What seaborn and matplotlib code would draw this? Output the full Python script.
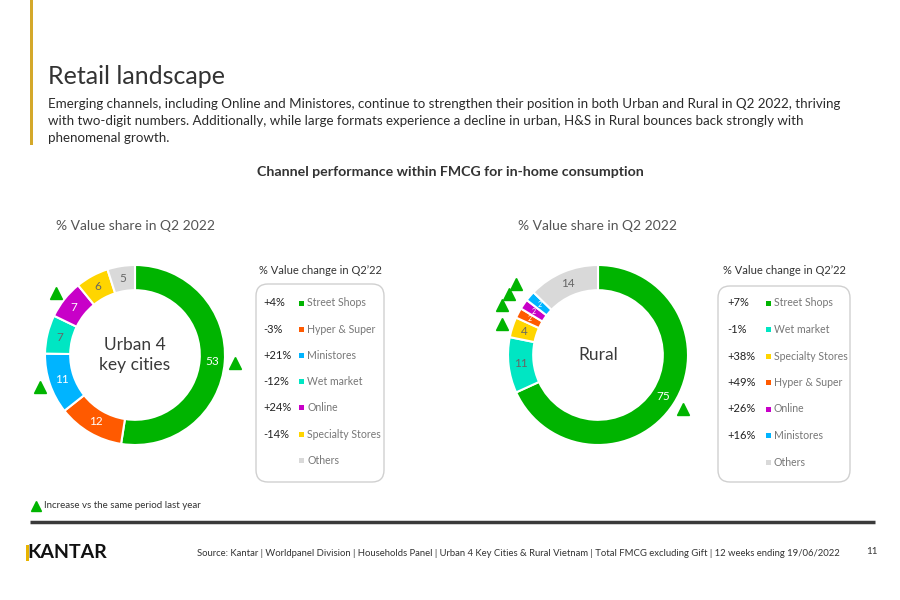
import matplotlib
matplotlib.use("Agg")
import matplotlib.pyplot as plt
import seaborn as sns
from matplotlib.patches import FancyBboxPatch, Rectangle
import numpy as np

# ---- data ----
urban_channels = ["Street Shops", "Hyper & Super", "Ministores", "Wet market",
                  "Online", "Specialty Stores", "Others"]
urban_share = [53, 12, 11, 7, 7, 6, 5]
urban_change = ["+4%", "-3%", "+21%", "-12%", "+24%", "-14%", ""]
urban_increase = [True, False, True, False, True, False, False]

rural_channels = ["Street Shops", "Wet market", "Specialty Stores", "Hyper & Super",
                  "Online", "Ministores", "Others"]
rural_share = [75, 11, 4, 2, 2, 2, 14]
rural_change = ["+7%", "-1%", "+38%", "+49%", "+26%", "+16%", ""]
rural_increase = [True, False, True, True, True, True, False]

channel_colors = {
    "Street Shops": "#00B400",
    "Hyper & Super": "#FF5A00",
    "Ministores": "#00B4FF",
    "Wet market": "#00E6C3",
    "Online": "#C800C8",
    "Specialty Stores": "#FFD500",
    "Others": "#D9D9D9",
}
light_label = {"Wet market", "Specialty Stores", "Others"}

sns.set_theme(style="white")
plt.rcParams["font.family"] = ["Lato", "DejaVu Sans"]

W, H = 900, 600
fig = plt.figure(figsize=(9, 6), dpi=100)
fig.patch.set_facecolor("white")

# page overlay in pixel coordinates
page = fig.add_axes([0, 0, 1, 1])
page.set_xlim(0, W)
page.set_ylim(H, 0)
page.axis("off")

DARK = "#333333"
GREY = "#555555"

page.add_patch(Rectangle((30, 0), 3, 145, color="#D4A82A", lw=0))
page.text(48, 77, "Retail landscape", fontsize=18, color=DARK, va="center")
subtitle = ["Emerging channels, including Online and Ministores, continue to strengthen their position in both Urban and Rural in Q2 2022, thriving",
            "with two-digit numbers. Additionally, while large formats experience a decline in urban, H&S in Rural bounces back strongly with",
            "phenomenal growth."]
for i, line in enumerate(subtitle):
    page.text(48, 104 + i * 17, line, fontsize=9.6, color="#2b2b2b", va="center")

page.text(450, 172, "Channel performance within FMCG for in-home consumption",
          fontsize=10.2, fontweight="bold", color=DARK, ha="center", va="center")


def draw_donut(cx, cy, r, values, channels, increase, center_text):
    size = 2 * r + 60
    ax = fig.add_axes([(cx - size / 2) / W, 1 - (cy + size / 2) / H, size / W, size / H])
    ax.set_aspect("equal")
    cols = [channel_colors[c] for c in channels]
    wedges, _ = ax.pie(values, colors=cols, startangle=90, counterclock=False,
                       radius=1.0, wedgeprops=dict(width=0.28, edgecolor="white", linewidth=1.5))
    lim = (size / 2) / r
    ax.set_xlim(-lim, lim)
    ax.set_ylim(-lim, lim)
    for w, val, ch, inc in zip(wedges, values, channels, increase):
        mid = np.deg2rad((w.theta1 + w.theta2) / 2)
        small = (w.theta2 - w.theta1) < 10
        col = "#666666" if ch in light_label else "white"
        ax.text(0.86 * np.cos(mid), 0.86 * np.sin(mid), str(val), ha="center", va="center",
                fontsize=5 if small else 8.5, color=col)
        if inc:
            rr = 1.2 if small else 1.12
            ax.plot(rr * np.cos(mid), rr * np.sin(mid), marker="^", color="#00B400",
                    markersize=8, clip_on=False)
    ax.text(0, 0, center_text, ha="center", va="center", fontsize=12.5, color="#3a3a3a",
            linespacing=1.3)
    ax.axis("off")
    return ax


draw_donut(135, 355, 90, urban_share, urban_channels, urban_increase, "Urban 4\nkey cities")
draw_donut(598, 355, 90, rural_share, rural_channels, rural_increase, "Rural")

page.text(135, 226, "% Value share in Q2 2022", fontsize=10, color=GREY, ha="center", va="center")
page.text(597, 226, "% Value share in Q2 2022", fontsize=10, color=GREY, ha="center", va="center")


def draw_legend(x0, x1, y0, y1, val_x, sq_x, channels, changes, row0, step):
    page.text((x0 + x1) / 2, 270, "% Value change in Q2\u201922", fontsize=8, color=DARK,
              ha="center", va="center")
    box = FancyBboxPatch((x0, y0), x1 - x0, y1 - y0, boxstyle="round,pad=0,rounding_size=12",
                         fc="white", ec="#D0D0D0", lw=1)
    page.add_patch(box)
    for i, (ch, chg) in enumerate(zip(channels, changes)):
        y = row0 + i * step
        if chg:
            page.text(val_x, y, chg, fontsize=8, color="#222222", va="center")
        page.add_patch(Rectangle((sq_x, y - 2.5), 5, 5, color=channel_colors[ch], lw=0))
        page.text(sq_x + 8, y, ch, fontsize=7.6, color="#777777", va="center")


draw_legend(256, 384, 284, 482, 263, 299, urban_channels, urban_change, 303, 26.2)
draw_legend(718, 850, 286, 482, 727, 766, rural_channels, rural_change, 303, 26.5)

# footnote and footer
page.plot(36, 506, marker="^", color="#00B400", markersize=7)
page.text(44, 506, "Increase vs the same period last year", fontsize=7, color=DARK, va="center")
page.plot([30, 875], [522, 522], color="#3a3a3a", lw=2.5, solid_capstyle="butt")

page.add_patch(Rectangle((26, 545), 2.5, 16, color="#E8B400", lw=0))
page.text(27, 553, "KANTAR", fontsize=14, fontweight="bold", color="#111111", va="center")
page.text(840, 553, "Source: Kantar | Worldpanel Division | Households Panel | Urban 4 Key Cities & Rural Vietnam | "
          "Total FMCG excluding Gift | 12 weeks ending 19/06/2022",
          fontsize=6.8, color=DARK, ha="right", va="center")
page.text(866, 552, "11", fontsize=7, color=DARK, va="center")

fig.savefig("out.png", dpi=100)
